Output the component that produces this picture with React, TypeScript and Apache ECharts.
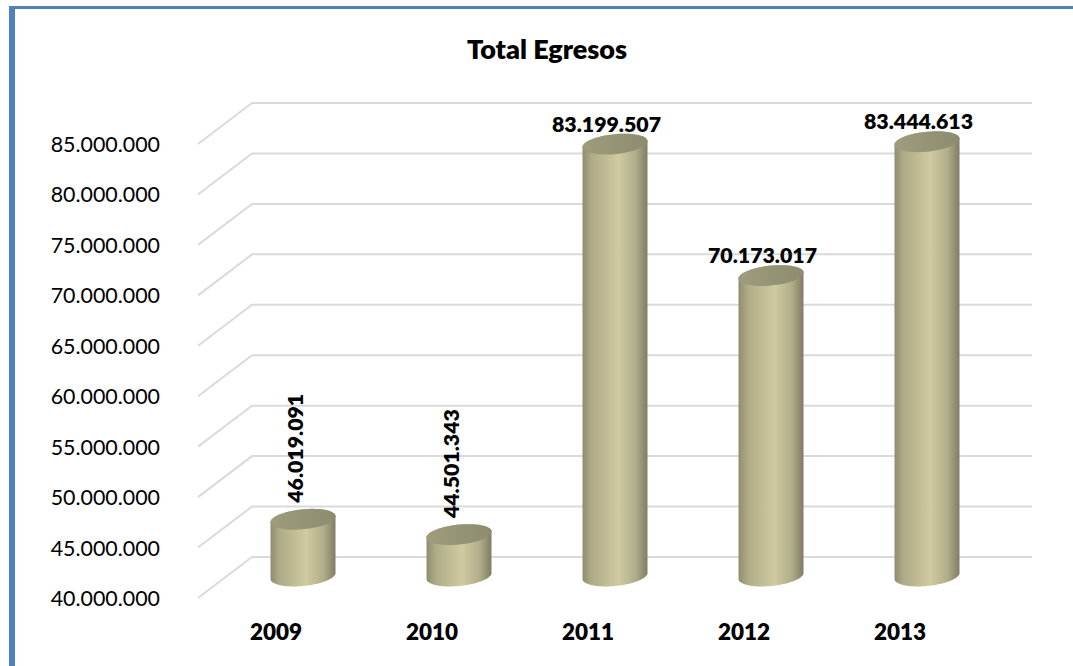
import React, { useEffect, useRef } from "react";
import * as echarts from "echarts";

const titleText = "Total Egresos";
const years = ["2009", "2010", "2011", "2012", "2013"];
const egresos = [46019091, 44501343, 83199507, 70173017, 83444613];
const wallTicks = [40000000, 45000000, 50000000, 55000000, 60000000, 65000000, 70000000, 75000000, 80000000, 85000000];
const verticalLabelYears = ["2009", "2010"];

const FONT = "Lato";
const DEPTH_X = 54;
const DEPTH_Y = 41;
const RADIUS_X = 32.5;
const RADIUS_Y = 10;
const TILT = 3;

const thousands = (v: number) => String(v).replace(/\B(?=(\d{3})+$)/g, ".");

// Points along the slanted ellipse that caps a cylinder, between two angles.
function capPoints(cx: number, cy: number, from: number, to: number) {
  const pts: number[][] = [];
  const steps = 48;
  for (let i = 0; i <= steps; i++) {
    const t = from + ((to - from) * i) / steps;
    pts.push([cx + RADIUS_X * Math.cos(t), cy + RADIUS_Y * Math.sin(t) - TILT * Math.cos(t)]);
  }
  return pts;
}

function renderWall(params: any, api: any) {
  const sys = params.coordSys;
  const y = api.coord([0, api.value(1)])[1];
  return {
    type: "polyline",
    silent: true,
    shape: {
      points: [
        [sys.x, y],
        [sys.x + DEPTH_X, y - DEPTH_Y],
        [sys.x + sys.width + DEPTH_X, y - DEPTH_Y],
      ],
    },
    style: { fill: "none", stroke: "#dadada", lineWidth: 2 },
  };
}

function renderCylinder(params: any, api: any) {
  const idx = api.value(0);
  const value = api.value(1);
  const [fx, fy] = api.coord([idx, value]);
  const baseY = api.coord([idx, 40000000])[1];
  const cx = fx + DEPTH_X / 2;
  const top = fy - 18;
  const bottom = baseY - 22;

  const body = [
    ...capPoints(cx, top, Math.PI, 2 * Math.PI),
    ...capPoints(cx, bottom, 0, Math.PI),
  ];
  const upright = verticalLabelYears.includes(years[idx]);

  return {
    type: "group",
    children: [
      {
        type: "polygon",
        shape: { points: body },
        style: {
          fill: new echarts.graphic.LinearGradient(0, 0, 1, 0, [
            { offset: 0, color: "#8f8d70" },
            { offset: 0.14, color: "#aeab87" },
            { offset: 0.55, color: "#cfcaa0" },
            { offset: 0.82, color: "#b0ad8a" },
            { offset: 1, color: "#7f7d63" },
          ]),
        },
      },
      {
        type: "polygon",
        shape: { points: capPoints(cx, top, 0, 2 * Math.PI) },
        style: {
          fill: new echarts.graphic.LinearGradient(0, 0, 1, 0, [
            { offset: 0, color: "#9e9c7d" },
            { offset: 1, color: "#8e8c6f" },
          ]),
        },
      },
      {
        type: "text",
        x: cx - 8.5,
        y: upright ? top - 71 : top - 20.5,
        rotation: upright ? Math.PI / 2 : 0,
        style: {
          text: thousands(value),
          fill: "#000000",
          font: `800 21.3px ${FONT}`,
          align: "center",
          verticalAlign: "middle",
        },
      },
    ],
  };
}

export default function App() {
  const ref = useRef<HTMLDivElement>(null);

  useEffect(() => {
    document.body.style.margin = "0";
    document.body.style.background = "#ffffff";
    const chart = echarts.init(ref.current!, undefined, { renderer: "svg" });
    chart.setOption({
      animation: false,
      backgroundColor: "#ffffff",
      textStyle: { fontFamily: FONT },
      title: {
        text: titleText,
        left: 542,
        top: 30,
        textAlign: "center",
        textStyle: { fontFamily: FONT, fontWeight: 800, fontSize: 27, color: "#000000" },
      },
      graphic: [
        { type: "rect", silent: true, shape: { x: 9, y: 6, width: 6, height: 660 }, style: { fill: "#4f81bd" } },
        { type: "rect", silent: true, shape: { x: 9, y: 6, width: 1064, height: 3 }, style: { fill: "#4f81bd" } },
      ],
      grid: { left: 198, top: 144, width: 780, height: 454 },
      xAxis: {
        type: "category",
        data: years,
        axisLine: { show: false },
        axisTick: { show: false },
        axisLabel: { color: "#000000", fontFamily: FONT, fontWeight: 800, fontSize: 22.5, margin: 22 },
      },
      yAxis: {
        type: "value",
        min: 40000000,
        max: 85000000,
        interval: 5000000,
        axisLine: { show: false },
        axisTick: { show: false },
        splitLine: { show: false },
        axisLabel: {
          color: "#000000",
          fontFamily: FONT,
          fontSize: 21.4,
          margin: 38,
          formatter: (v: number) => thousands(v),
        },
      },
      series: [
        {
          type: "custom",
          silent: true,
          z: 1,
          renderItem: renderWall,
          encode: { x: 0, y: 1 },
          data: wallTicks.map((t) => [0, t]),
        },
        {
          type: "custom",
          silent: true,
          z: 2,
          renderItem: renderCylinder,
          encode: { x: 0, y: 1 },
          data: egresos.map((v, i) => [i, v]),
        },
      ],
    });
    return () => chart.dispose();
  }, []);

  return <div ref={ref} style={{ position: "absolute", left: 0, top: 0, width: 1073, height: 666 }} />;
}
